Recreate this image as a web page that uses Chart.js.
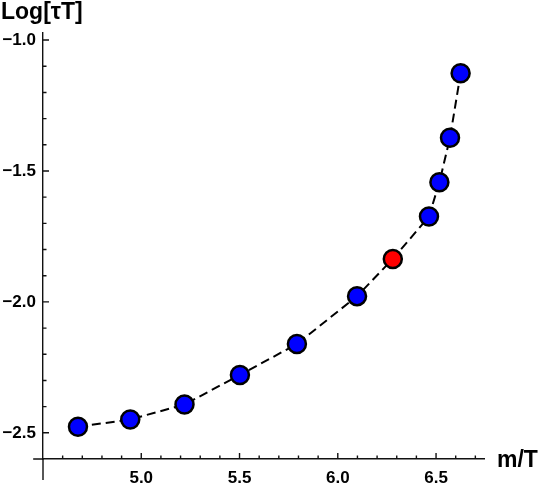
<!DOCTYPE html>
<html>
<head>
<meta charset="utf-8">
<script src="https://cdn.jsdelivr.net/npm/chart.js@4.4.0/dist/chart.umd.min.js"></script>
<style>
  body { margin: 0; background: #fff; }
  #plot { display: block; }
</style>
</head>
<body>
<canvas id="plot" width="540" height="487"></canvas>
<script>
// values
var mOverT = [4.678, 4.944, 5.220, 5.502, 5.792, 6.098, 6.280, 6.464, 6.517, 6.571, 6.625];
var logTauT = [-2.477, -2.449, -2.392, -2.279, -2.161, -1.978, -1.836, -1.674, -1.543, -1.373, -1.127];
var redIndex = 6;

var xTicks = [5.0, 5.5, 6.0, 6.5];
var yTicks = [-2.5, -2.0, -1.5, -1.0];
var xMinor = [4.6, 4.7, 4.8, 4.9, 5.1, 5.2, 5.3, 5.4, 5.6, 5.7, 5.8, 5.9, 6.1, 6.2, 6.3, 6.4, 6.6, 6.7];
var yMinor = [-2.4, -2.3, -2.2, -2.1, -1.9, -1.8, -1.7, -1.6, -1.4, -1.3, -1.2, -1.1];

var font = "Liberation Sans, Arial, sans-serif";

function fmt(v) {
  return (v < 0 ? "\u2212" : "") + Math.abs(v).toFixed(1);
}

// mathematica style axes: ticks inside, axes run past each other, titles at ends
var axesPlugin = {
  id: 'axesDeco',
  beforeDatasetsDraw: function(chart) {
    var c = chart.ctx, xs = chart.scales.x, ys = chart.scales.y;
    var x0 = xs.getPixelForValue(4.5), y0 = ys.getPixelForValue(-2.6);
    c.save();
    c.strokeStyle = '#111';
    c.lineWidth = 1.4;
    c.beginPath();
    c.moveTo(xs.getPixelForValue(4.45), y0); c.lineTo(x0, y0);
    c.moveTo(x0, y0); c.lineTo(x0, ys.getPixelForValue(-2.68));
    xTicks.forEach(function(v) { var p = xs.getPixelForValue(v); c.moveTo(p, y0); c.lineTo(p, y0 - 6); });
    xMinor.forEach(function(v) { var p = xs.getPixelForValue(v); c.moveTo(p, y0); c.lineTo(p, y0 - 3.5); });
    yTicks.forEach(function(v) { var p = ys.getPixelForValue(v); c.moveTo(x0, p); c.lineTo(x0 + 6, p); });
    yMinor.forEach(function(v) { var p = ys.getPixelForValue(v); c.moveTo(x0, p); c.lineTo(x0 + 3.5, p); });
    c.stroke();
    c.restore();
  },
  afterDraw: function(chart) {
    var c = chart.ctx;
    c.save();
    c.fillStyle = '#000';
    c.font = 'bold 23px ' + font;
    c.textAlign = 'left';
    c.textBaseline = 'alphabetic';
    c.fillText('Log[\u03c4T]', 1, 19);
    c.fillText('m/T', 497, 467);
    c.restore();
  }
};

var ctx = document.getElementById("plot").getContext('2d');
var plot = new Chart(ctx, {
  type: 'line',
  data: {
    datasets: [{
      data: mOverT.map(function(x, i) { return {x: x, y: logTauT[i]}; }),
      borderColor: '#000',
      borderWidth: 2,
      borderDash: [9, 5],
      tension: 0,
      fill: false,
      pointRadius: 9,
      pointHoverRadius: 9,
      pointBorderWidth: 2.5,
      pointBorderColor: '#000',
      pointBackgroundColor: function(c) { return c.dataIndex === redIndex ? '#ff0000' : '#0000ff'; }
    }]
  },
  plugins: [axesPlugin],
  options: {
    responsive: false,
    devicePixelRatio: 1,
    animation: false,
    layout: { padding: { left: 0, right: 56, top: 33, bottom: 0 } },
    plugins: { legend: { display: false }, tooltip: { enabled: false } },
    scales: {
      x: {
        type: 'linear', position: 'bottom', min: 4.5, max: 6.744,
        afterFit: function(s) { s.height = 28; },
        afterBuildTicks: function(s) { s.ticks = xTicks.map(function(v) { return {value: v}; }); },
        grid: { drawOnChartArea: false, drawTicks: false },
        border: { display: true, color: '#111', width: 1.4 },
        ticks: { padding: 9, color: '#000', font: { family: font, size: 17, weight: 'bold' }, callback: fmt, maxRotation: 0 }
      },
      y: {
        type: 'linear', position: 'left', min: -2.6, max: -0.973,
        afterFit: function(s) { s.width = 43; },
        afterBuildTicks: function(s) { s.ticks = yTicks.map(function(v) { return {value: v}; }); },
        grid: { drawOnChartArea: false, drawTicks: false },
        border: { display: true, color: '#111', width: 1.4 },
        ticks: { padding: 7, color: '#000', font: { family: font, size: 17, weight: 'bold' }, callback: fmt }
      }
    }
  }
});
</script>
</body>
</html>
